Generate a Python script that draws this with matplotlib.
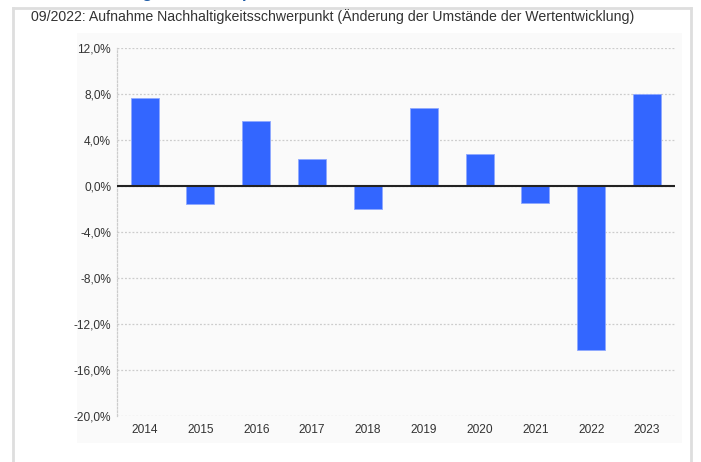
import matplotlib.pyplot as plt
from matplotlib.patches import Rectangle
from matplotlib.ticker import FuncFormatter

plt.rcParams['font.family'] = ['Liberation Sans', 'DejaVu Sans']

years = ['2014', '2015', '2016', '2017', '2018', '2019', '2020', '2021', '2022', '2023']
returns = [7.66, -1.58, 5.65, 2.37, -2.01, 6.8, 2.8, -1.47, -14.22, 8.03]
yticks = [12, 8, 4, 0, -4, -8, -12, -16, -20]

subtitle = "09/2022: Aufnahme Nachhaltigkeitsschwerpunkt (Änderung der Umstände der Wertentwicklung)"
heading = "Wertentwicklung in Prozent p.a."

fig = plt.figure(figsize=(7.01, 4.62), dpi=100)

# Hintergrund-Panel und Rahmen (Pixelkoordinaten -> Figure-Anteile)
W, H = 701, 462
fig.patches.append(Rectangle((77 / W, 1 - 443 / H), (682 - 77) / W, (443 - 33) / H,
                             transform=fig.transFigure, facecolor='#fafafa',
                             edgecolor='none', zorder=-5))
for xs, ys in [([13, 13], [462, 8]), ([691, 691], [462, 8]), ([13, 691], [8, 8])]:
    fig.lines.append(plt.Line2D([v / W for v in xs], [1 - v / H for v in ys],
                                transform=fig.transFigure, color='#dedede', lw=2))

# Ueberschrift ist im Original oben abgeschnitten
fig.text(20 / W, 1 + 2 / H, heading, color='#1d5aa5', fontsize=12, fontweight='bold',
         va='baseline', ha='left')
fig.text(31 / W, 1 - 17 / H, subtitle, color='#333333', fontsize=10.2,
         va='center', ha='left')

ax = fig.add_axes([116.7 / W, 46 / H, (675 - 116.7) / W, (416 - 48) / H])
ax.patch.set_alpha(0)

x = range(len(years))
ax.bar(x, returns, width=0.5, color='#3366ff', edgecolor='#8ea8ff', linewidth=0.6, zorder=3)
ax.axhline(0, color='#222222', lw=1.5, zorder=4)

ax.set_xlim(-0.5, len(years) - 0.5)
ax.set_ylim(-20, 12)
ax.set_yticks(yticks)
ax.yaxis.set_major_formatter(FuncFormatter(lambda v, p: f"{v:.1f}%".replace('.', ',')))
ax.set_xticks(list(x))
ax.set_xticklabels(years)

ax.grid(axis='y', color='#cccccc', linestyle=(0, (1.5, 1.5)), lw=0.9, zorder=0)
for s in ['top', 'right', 'bottom']:
    ax.spines[s].set_visible(False)
ax.spines['left'].set_color('#cccccc')
ax.spines['left'].set_linestyle((0, (1.5, 1.5)))
ax.spines['left'].set_linewidth(0.9)

ax.tick_params(axis='both', length=0, colors='#333333', labelsize=8.6)
ax.tick_params(axis='y', pad=4)
ax.tick_params(axis='x', pad=6)

fig.savefig('out.png', dpi=100)
